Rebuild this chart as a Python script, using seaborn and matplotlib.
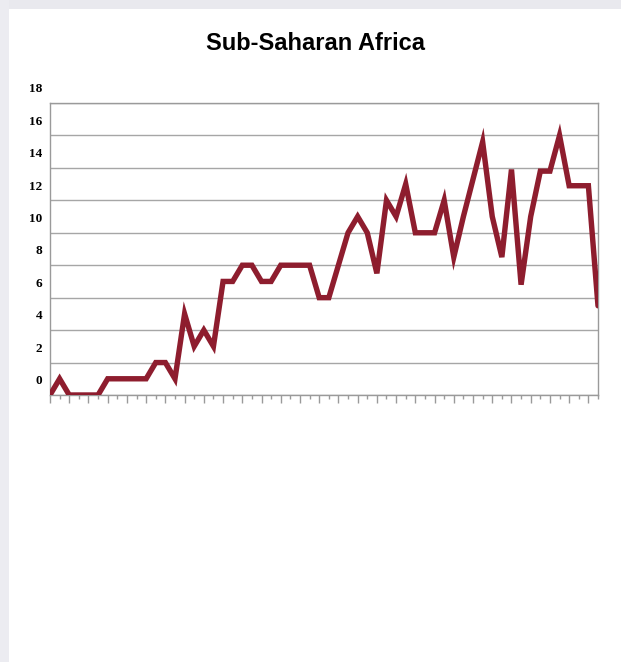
import numpy as np
import pandas as pd
import matplotlib
matplotlib.use("Agg")
from matplotlib import pyplot as plt
from matplotlib.patches import Rectangle
import seaborn as sns

# values, one per tick on the x axis
values = [-1, 0, -1, -1, -1, -1, 0, 0, 0, 0,
          0, 1, 1, 0, 4, 2, 3, 2, 6, 6,
          7, 7, 6, 6, 7, 7, 7, 7, 5, 5,
          7, 9, 10, 9, 6.5, 11, 10, 12, 9, 9,
          9, 11, 7.5, 10, 12.3, 14.6, 10, 7.5, 12.9, 5.8,
          10, 12.8, 12.8, 15, 11.9, 11.9, 11.9, 4.5]
ytick_labels = [0, 2, 4, 6, 8, 10, 12, 14, 16, 18]
grid_levels = [-1, 1, 3, 5, 7, 9, 11, 13, 15, 17]
title = "Sub-Saharan Africa"

df = pd.DataFrame({"pos": np.arange(len(values)), "value": values})

sns.set_style("white")
fig = plt.figure(figsize=(6.21, 6.62), dpi=100)
fig.patch.set_facecolor("white")

# page background strips (gray around the white card)
fig.add_artist(Rectangle((0, 1 - 9 / 662), 1, 9 / 662, transform=fig.transFigure,
                         facecolor="#e9e9ee", edgecolor="none", zorder=0))
fig.add_artist(Rectangle((0, 0), 9 / 621, 1, transform=fig.transFigure,
                         facecolor="#ececf1", edgecolor="none", zorder=0))

ax = fig.add_axes([50 / 621, (662 - 395) / 662, 548 / 621, 292 / 662])
ax.set_facecolor("white")

# horizontal gridlines
for g in grid_levels:
    ax.axhline(g, color="#a6a6a6", lw=1.0, zorder=1)

sns.lineplot(data=df, x="pos", y="value", ax=ax, color="#8e1d2e",
             linewidth=3.9, zorder=3, solid_joinstyle="miter")

ax.set_xlim(0, len(values) - 1)
ax.set_ylim(-1, 17)
ax.set_xlabel("")
ax.set_ylabel("")

for s in ax.spines.values():
    s.set_color("#9a9a9a")
    s.set_linewidth(1.0)
    s.set_visible(True)

# x ticks: long on even positions, short on odd, no labels
ax.set_xticks(np.arange(0, len(values), 2))
ax.set_xticks(np.arange(1, len(values), 2), minor=True)
ax.tick_params(axis="x", which="major", length=5.5, width=1.0, color="#9a9a9a",
               direction="out", labelbottom=False, bottom=True)
ax.tick_params(axis="x", which="minor", length=3, width=1.0, color="#9a9a9a",
               direction="out", bottom=True)
ax.set_yticks([])

# y labels sit between the gridlines (a touch below the even value)
trans = ax.get_yaxis_transform()
for v in ytick_labels:
    ax.text(-8 / 548, v - 0.15, str(v), transform=trans, ha="right", va="center",
            fontsize=9.5, fontweight="bold", family="Liberation Serif",
            color="black", clip_on=False)

fig.text(316 / 621, (662 - 50) / 662, title, ha="center", va="baseline",
         fontsize=17, fontweight="bold", family="Liberation Sans", color="black")

fig.savefig("out.png", dpi=100, facecolor=fig.get_facecolor())
